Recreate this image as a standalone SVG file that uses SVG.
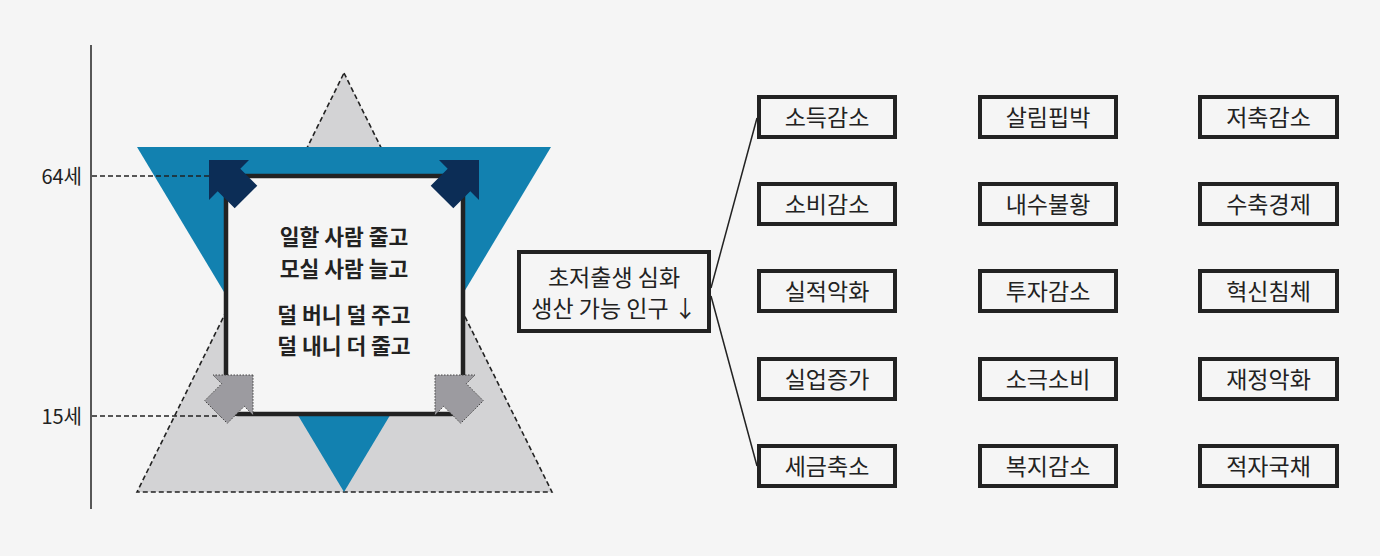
<svg xmlns="http://www.w3.org/2000/svg" width="1380" height="556" viewBox="0 0 1380 556">
<style>
.t{font-family:"Noto Sans CJK KR","Noto Sans",sans-serif;fill:#222;}
.box{fill:none;stroke:#222;stroke-width:4;}
.bt{font-size:23px;text-anchor:middle;}
.sq{font-size:21.5px;font-weight:bold;text-anchor:middle;}
.dash{stroke:#222;stroke-width:1.6;stroke-dasharray:5 3;fill:none;}
.conn{stroke:#222;stroke-width:1.5;fill:none;}
.up{fill:#0c2d56;}
.dn{fill:#9c9ba0;stroke:#444;stroke-width:1;stroke-dasharray:1.5 1.5;}
</style>
<rect width="1380" height="556" fill="#f5f5f5"/>
<g id="axis">
<line x1="91" y1="45" x2="91" y2="509" stroke="#222" stroke-width="1.5"/>
<text class="t" x="82" y="184" font-size="20" text-anchor="end">64세</text>
<text class="t" x="82" y="424" font-size="20" text-anchor="end">15세</text>
</g>
<g id="pyramid">
<polygon points="344,73 552,492 137,492" class="dash" style="fill:#d3d3d5"/>
<polygon points="137,147 551,147 344,492" fill="#1281b0"/>
<line class="dash" x1="92" y1="176" x2="210" y2="176"/>
<line class="dash" x1="92" y1="416" x2="222" y2="416"/>
</g>
<g id="square">
<rect x="226" y="176" width="237" height="238" rx="12" fill="#f5f5f5" stroke="#222" stroke-width="4.5"/>
<text class="t sq" x="344" y="245">일할 사람 줄고</text>
<text class="t sq" x="344" y="276.5">모실 사람 늘고</text>
<text class="t sq" x="344" y="322.5">덜 버니 덜 주고</text>
<text class="t sq" x="344" y="354">덜 내니 더 줄고</text>
</g>
<g id="arrows">
<polygon class="up" points="209,160 249,160 240.3,168.7 257.3,185.7 234.7,208.3 217.7,191.3 209,200"/>
<polygon class="up" points="479,160 439,160 447.7,168.7 430.7,185.7 453.3,208.3 470.3,191.3 479,200"/>
<polygon class="dn" points="253,375 213,375 221.7,383.7 204.7,400.7 227.3,423.3 244.3,406.3 253,415"/>
<polygon class="dn" points="435,375 475,375 466.3,383.7 483.3,400.7 460.7,423.3 443.7,406.3 435,415"/>
</g>
<g id="connectors">
<line class="conn" x1="711" y1="288" x2="757" y2="118"/>
<line class="conn" x1="711" y1="296" x2="757" y2="466"/>
</g>
<g id="center">
<rect class="box" x="519" y="252" width="190" height="79"/>
<text class="t bt" x="614" y="286">초저출생 심화</text>
<text class="t bt" x="614" y="317">생산 가능 인구 ↓</text>
</g>
<g id="c1">
<g id="n-1-1"><rect class="box" x="759" y="97" width="136" height="40"/><text class="t bt" x="827" y="125.5">소득감소</text></g>
<g id="n-1-2"><rect class="box" x="759" y="184" width="136" height="40"/><text class="t bt" x="827" y="212.5">소비감소</text></g>
<g id="n-1-3"><rect class="box" x="759" y="271" width="136" height="40"/><text class="t bt" x="827" y="299.5">실적악화</text></g>
<g id="n-1-4"><rect class="box" x="759" y="359" width="136" height="40"/><text class="t bt" x="827" y="387.5">실업증가</text></g>
<g id="n-1-5"><rect class="box" x="759" y="446" width="136" height="40"/><text class="t bt" x="827" y="474.5">세금축소</text></g>
</g>
<g id="c2">
<g id="n-2-1"><rect class="box" x="980" y="97" width="136" height="40"/><text class="t bt" x="1048" y="125.5">살림핍박</text></g>
<g id="n-2-2"><rect class="box" x="980" y="184" width="136" height="40"/><text class="t bt" x="1048" y="212.5">내수불황</text></g>
<g id="n-2-3"><rect class="box" x="980" y="271" width="136" height="40"/><text class="t bt" x="1048" y="299.5">투자감소</text></g>
<g id="n-2-4"><rect class="box" x="980" y="359" width="136" height="40"/><text class="t bt" x="1048" y="387.5">소극소비</text></g>
<g id="n-2-5"><rect class="box" x="980" y="446" width="136" height="40"/><text class="t bt" x="1048" y="474.5">복지감소</text></g>
</g>
<g id="c3">
<g id="n-3-1"><rect class="box" x="1200" y="97" width="137" height="40"/><text class="t bt" x="1268.5" y="125.5">저축감소</text></g>
<g id="n-3-2"><rect class="box" x="1200" y="184" width="137" height="40"/><text class="t bt" x="1268.5" y="212.5">수축경제</text></g>
<g id="n-3-3"><rect class="box" x="1200" y="271" width="137" height="40"/><text class="t bt" x="1268.5" y="299.5">혁신침체</text></g>
<g id="n-3-4"><rect class="box" x="1200" y="359" width="137" height="40"/><text class="t bt" x="1268.5" y="387.5">재정악화</text></g>
<g id="n-3-5"><rect class="box" x="1200" y="446" width="137" height="40"/><text class="t bt" x="1268.5" y="474.5">적자국채</text></g>
</g>
</svg>
